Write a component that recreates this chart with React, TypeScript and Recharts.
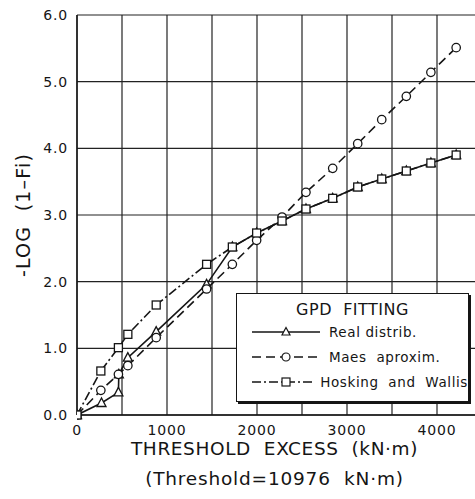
import { CartesianGrid, Legend, Line, LineChart, XAxis, YAxis } from "recharts";

// threshold excess (kN·m) of the fitted points
const excess = [0, 265, 460, 565, 880, 1440, 1726, 1996, 2278, 2544, 2841, 3119, 3386, 3659, 3932, 4213];
const maesValues = [0, 0.37, 0.61, 0.74, 1.16, 1.89, 2.26, 2.62, 2.97, 3.34, 3.7, 4.07, 4.43, 4.78, 5.14, 5.51];
const hoskingValues = [0, 0.66, 1.01, 1.21, 1.65, 2.26, 2.52, 2.73, 2.91, 3.09, 3.25, 3.42, 3.54, 3.66, 3.78, 3.9];

// empirical distribution (has a vertical jump near 460)
const realExcess = [0, 272, 460, 465, 565, 880, 1440, 1726, 1996, 2278, 2544, 2841, 3119, 3386, 3659, 3932, 4213];
const realValues = [0, 0.18, 0.34, 0.61, 0.86, 1.25, 1.96, 2.52, 2.73, 2.91, 3.09, 3.25, 3.42, 3.54, 3.66, 3.78, 3.9];

const xTicks = [0, 500, 1000, 1500, 2000, 2500, 3000, 3500, 4000, 4500];
const yTicks = [0, 1, 2, 3, 4, 5, 6];

const FONT = "'DejaVu Sans', sans-serif";
const INK = "#151515";

const maesData = excess.map((x, i) => ({ x, y: maesValues[i] }));
const hoskingData = excess.map((x, i) => ({ x, y: hoskingValues[i] }));
const realData = realExcess.map((x, i) => ({ x, y: realValues[i] }));

const Square = (props: any) => {
    const { cx, cy, index } = props;
    if (cx == null || cy == null) return <g key={`sq-${index}`} />;
    return <rect key={`sq-${index}`} x={cx - 4} y={cy - 4} width={8} height={8} fill="#fff" stroke={INK} strokeWidth={1.3} />;
};

const Circle = (props: any) => {
    const { cx, cy, index } = props;
    if (cx == null || cy == null) return <g key={`ci-${index}`} />;
    return <circle key={`ci-${index}`} cx={cx} cy={cy} r={4.2} fill="#fff" stroke={INK} strokeWidth={1.3} />;
};

const Triangle = (props: any) => {
    const { cx, cy, index } = props;
    if (cx == null || cy == null) return <g key={`tr-${index}`} />;
    return (
        <path
            key={`tr-${index}`}
            d={`M${cx},${cy - 5} L${cx - 4.5},${cy + 3.5} L${cx + 4.5},${cy + 3.5} Z`}
            fill="#fff"
            stroke={INK}
            strokeWidth={1.3}
        />
    );
};

const legendRows = [
    { name: "Real distrib.", dash: undefined, marker: "triangle" },
    { name: "Maes  aproxim.", dash: "9 5", marker: "circle" },
    { name: "Hosking  and  Wallis", dash: "9 3 2 3", marker: "square" },
];

const LegendBox = () => (
    <div
        style={{
            width: 233,
            height: 109,
            border: `1.5px solid ${INK}`,
            boxShadow: `2px 2px 0 ${INK}`,
            background: "#fff",
            fontFamily: FONT,
            color: INK,
            boxSizing: "border-box",
        }}
    >
        <div style={{ textAlign: "center", fontSize: 16, marginTop: 6, letterSpacing: 0.5 }}>GPD&nbsp;&nbsp;FITTING</div>
        {legendRows.map((row) => (
            <div key={row.name} style={{ display: "flex", alignItems: "center", height: 25, marginLeft: 14 }}>
                <svg width={70} height={14}>
                    <line x1={1} y1={7} x2={69} y2={7} stroke={INK} strokeWidth={1.6} strokeDasharray={row.dash} />
                    {row.marker === "triangle" && <path d="M35,2.5 L31,10 L39,10 Z" fill="#fff" stroke={INK} strokeWidth={1.2} />}
                    {row.marker === "circle" && <circle cx={35} cy={7} r={4} fill="#fff" stroke={INK} strokeWidth={1.2} />}
                    {row.marker === "square" && <rect x={31} y={3} width={8} height={8} fill="#fff" stroke={INK} strokeWidth={1.2} />}
                </svg>
                <span style={{ fontSize: 13.5, marginLeft: 8, letterSpacing: 0.6, whiteSpace: "pre" }}>{row.name}</span>
            </div>
        ))}
    </div>
);

const XTitle = (props: any) => {
    const { viewBox } = props;
    const cx = viewBox.x + viewBox.width / 2 - 5;
    return (
        <g fontFamily={FONT} fill={INK} textAnchor="middle">
            <text x={cx} y={viewBox.y + 40} fontSize={18.5} letterSpacing={0.6}>{"THRESHOLD\u00a0 EXCESS\u00a0 (kN·m)"}</text>
            <text x={cx} y={viewBox.y + 70} fontSize={18.5} letterSpacing={0.8}>{"(Threshold=10976\u00a0 kN·m)"}</text>
        </g>
    );
};

const YTitle = (props: any) => {
    const { viewBox } = props;
    const x = viewBox.x + 24;
    const y = viewBox.y + viewBox.height / 2;
    return (
        <text
            x={x}
            y={y}
            transform={`rotate(-90 ${x} ${y})`}
            textAnchor="middle"
            dominantBaseline="middle"
            fontFamily={FONT}
            fontSize={19}
            letterSpacing={1.2}
            fill={INK}
            style={{ whiteSpace: "pre" }}
        >
            -LOG  (1–Fi)
        </text>
    );
};

function App() {
    return (
        <div style={{ position: "absolute", left: 0, top: 0, width: 475, height: 499, overflow: "hidden", background: "#fff" }}>
            <LineChart width={500} height={499} margin={{ top: 15, right: 18, bottom: 0, left: 0 }}>
                <CartesianGrid stroke="#222" strokeWidth={1.2} horizontalValues={yTicks} verticalValues={xTicks} />
                <XAxis
                    type="number"
                    dataKey="x"
                    domain={[0, 4500]}
                    ticks={xTicks}
                    allowDataOverflow
                    height={84}
                    tickLine={false}
                    tickMargin={4}
                    axisLine={{ stroke: INK, strokeWidth: 1.4 }}
                    tick={{ fontFamily: FONT, fontSize: 14, fill: INK, letterSpacing: 0.8 }}
                    tickFormatter={(v: number) => (v % 1000 === 0 ? String(v) : "")}
                    label={{ content: XTitle }}
                />
                <YAxis
                    type="number"
                    dataKey="y"
                    domain={[0, 6]}
                    ticks={yTicks}
                    width={77}
                    tickLine={false}
                    tickMargin={3}
                    axisLine={{ stroke: INK, strokeWidth: 1.4 }}
                    tick={{ fontFamily: FONT, fontSize: 14, fill: INK, letterSpacing: 0.8 }}
                    tickFormatter={(v: number) => v.toFixed(1)}
                    label={{ content: YTitle }}
                />
                <Legend
                    layout="vertical"
                    align="center"
                    verticalAlign="middle"
                    content={LegendBox}
                    wrapperStyle={{ left: 236, top: 293, width: 233, height: 109 }}
                />
                <Line data={realData} dataKey="y" name="Real distrib." type="linear" stroke={INK} strokeWidth={1.6} dot={Triangle} isAnimationActive={false} />
                <Line data={maesData} dataKey="y" name="Maes aproxim." type="linear" stroke={INK} strokeWidth={1.6} strokeDasharray="9 5" dot={Circle} isAnimationActive={false} />
                <Line data={hoskingData} dataKey="y" name="Hosking and Wallis" type="linear" stroke={INK} strokeWidth={1.6} strokeDasharray="9 3 2 3" dot={Square} isAnimationActive={false} />
            </LineChart>
        </div>
    );
}

export default App;
